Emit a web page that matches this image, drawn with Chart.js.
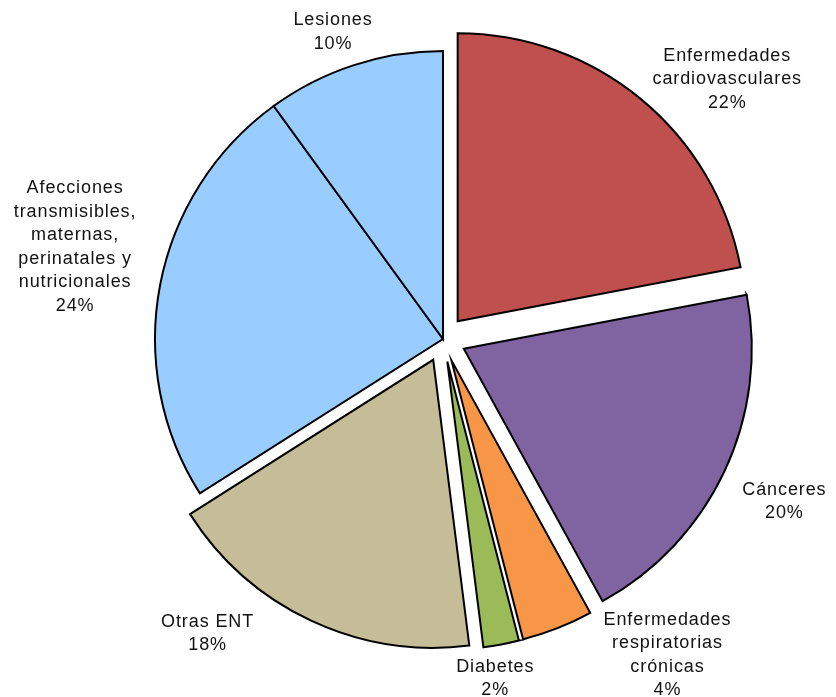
<!DOCTYPE html>
<html>
<head>
<meta charset="utf-8">
<script src="https://cdn.jsdelivr.net/npm/chart.js@4.4.0/dist/chart.umd.min.js"></script>
<style>
  html, body { margin: 0; padding: 0; background: #fff; }
  canvas { display: block; }
</style>
</head>
<body>
<canvas id="pie" width="836" height="697"></canvas>
<script>
// categories, clockwise from 12 o'clock
var categories = [
  'Enfermedades cardiovasculares',
  'Cánceres',
  'Enfermedades respiratorias crónicas',
  'Diabetes',
  'Otras ENT',
  'Afecciones transmisibles, maternas, perinatales y nutricionales',
  'Lesiones'
];
var shares = [22, 20, 4, 2, 18, 24, 10];
// how the label text wraps
var labelLines = [
  ['Enfermedades', 'cardiovasculares'],
  ['Cánceres'],
  ['Enfermedades', 'respiratorias', 'crónicas'],
  ['Diabetes'],
  ['Otras ENT'],
  ['Afecciones', 'transmisibles,', 'maternas,', 'perinatales y', 'nutricionales'],
  ['Lesiones']
];
var sliceColors = ['#C0504D', '#8064A2', '#F79646', '#9BBB59', '#C4BD97', '#99CCFF', '#99CCFF'];
// ENT slices are pulled out, the other two stay together
var exploded = [true, true, true, true, true, false, false];

var EXPLODE = 23;
// label nudges from the middle of each slice's outer edge
var labelNudge = [[86, -20], [60, 30], [110, 27], [-6, 34], [-103, 13], [-85, -38], [-21, -33]];

var explodePlugin = {
  id: 'explode',
  afterDatasetUpdate: function(chart, args) {
    args.meta.data.forEach(function(arc, i) {
      if (!exploded[i]) return;
      var mid = (arc.startAngle + arc.endAngle) / 2;
      arc.x += Math.cos(mid) * EXPLODE;
      arc.y += Math.sin(mid) * EXPLODE;
    });
  }
};

var labelPlugin = {
  id: 'sliceLabels',
  afterDraw: function(chart) {
    var ctx = chart.ctx;
    var arcs = chart.getDatasetMeta(0).data;
    ctx.save();
    ctx.font = '18px "Liberation Sans", Arial, sans-serif';
    ctx.letterSpacing = '0.9px';
    ctx.fillStyle = '#111';
    ctx.textAlign = 'center';
    ctx.textBaseline = 'middle';
    var lh = 23.5;
    arcs.forEach(function(arc, i) {
      var mid = (arc.startAngle + arc.endAngle) / 2;
      var ax = arc.x + Math.cos(mid) * arc.outerRadius + labelNudge[i][0];
      var ay = arc.y + Math.sin(mid) * arc.outerRadius + labelNudge[i][1];
      var lines = labelLines[i].concat([shares[i] + '%']);
      var top = ay - (lines.length - 1) * lh / 2;
      lines.forEach(function(t, k) {
        ctx.fillText(t, ax, top + k * lh);
      });
    });
    ctx.restore();
  }
};

new Chart(document.getElementById('pie'), {
  type: 'pie',
  data: {
    labels: categories,
    datasets: [{
      data: shares,
      backgroundColor: sliceColors,
      borderColor: '#000',
      borderWidth: 2,
      borderJoinStyle: 'miter'
    }]
  },
  options: {
    responsive: false,
    animation: false,
    radius: 288,
    layout: { padding: { left: 50, right: 0, top: 0, bottom: 19 } },
    plugins: {
      legend: { display: false },
      tooltip: { enabled: false }
    }
  },
  plugins: [explodePlugin, labelPlugin]
});
</script>
</body>
</html>
